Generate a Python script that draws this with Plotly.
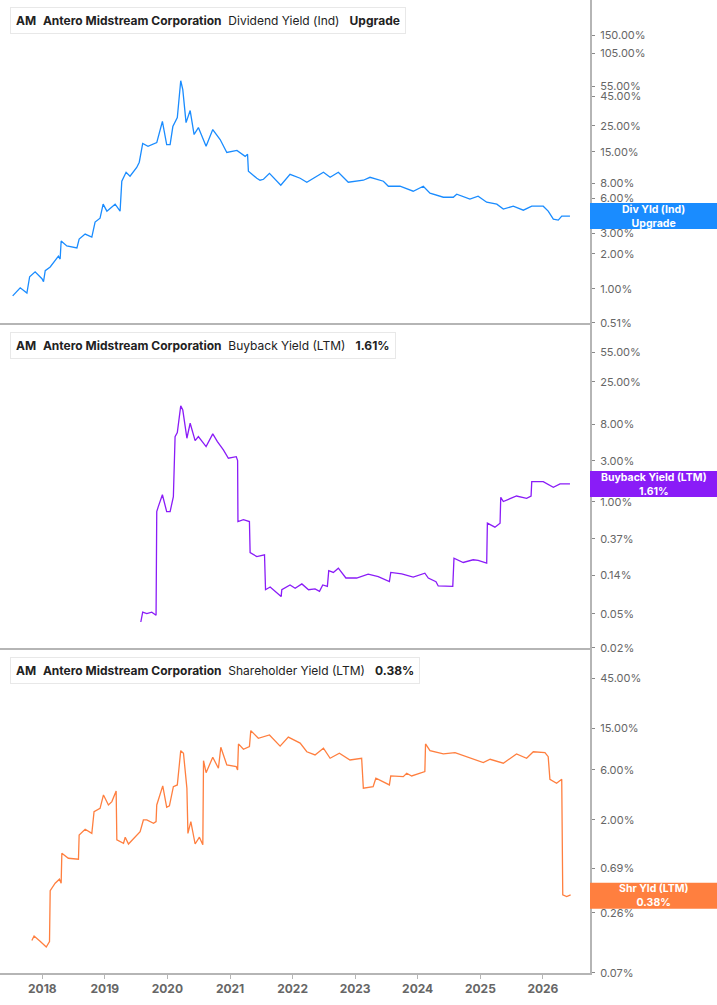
import math
import plotly.graph_objects as go
from plotly.subplots import make_subplots

# ---------------- data ----------------
div_dates = ["2017-07-12","2017-08-25","2017-10-03","2017-10-19","2017-11-20","2017-12-30","2018-01-08","2018-01-18",
             "2018-02-16","2018-04-05","2018-04-15","2018-04-21","2018-05-24","2018-07-22","2018-08-04","2018-09-08",
             "2018-10-17","2018-11-05","2018-12-04","2018-12-22","2019-01-13","2019-03-02","2019-03-31","2019-04-10",
             "2019-05-05","2019-05-28","2019-07-06","2019-07-21","2019-08-10","2019-09-10","2019-10-31","2019-12-03",
             "2019-12-28","2020-01-17","2020-02-02","2020-02-28","2020-03-19","2020-03-31","2020-04-19","2020-05-13",
             "2020-06-05","2020-06-30","2020-08-14","2020-09-22","2020-11-04","2020-12-13","2021-02-10","2021-03-30",
             "2021-04-13","2021-04-18","2021-06-06","2021-06-25","2021-07-15","2021-08-19","2021-10-24","2021-12-17",
             "2022-02-14","2022-03-25","2022-06-30","2022-08-08","2022-09-25","2022-11-22","2023-02-18","2023-03-29",
             "2023-06-15","2023-07-14","2023-09-20","2023-12-06","2024-02-03","2024-03-13","2024-05-30","2024-07-27",
             "2024-08-16","2024-11-01","2024-12-19","2025-02-07","2025-04-07","2025-05-15","2025-07-12","2025-09-09",
             "2025-10-28","2026-01-03","2026-02-01","2026-03-03","2026-04-01","2026-04-21","2026-06-08"]
div_vals = [0.87,1.02,0.92,1.27,1.40,1.22,1.15,1.43,
            1.54,1.91,1.80,2.57,2.33,2.24,2.67,2.95,
            2.78,3.74,4.04,5.33,4.64,5.33,4.64,8.38,
            10.0,9.25,11.0,12.2,17.7,16.7,18.0,27.3,
            17.3,17.3,24.7,29.5,61.1,51.2,26.7,33.9,
            21.1,24.2,16.7,23.3,19.1,14.8,15.4,13.7,
            14.3,10.2,8.89,8.55,8.71,9.8,7.74,9.61,
            8.89,8.22,10.0,9.06,10.0,8.22,8.55,9.06,
            8.38,7.59,7.59,6.88,7.59,6.62,6.11,6.11,
            6.49,5.88,6.24,5.54,5.33,4.83,5.12,4.73,
            5.12,5.12,4.64,3.96,3.89,4.21,4.21]

bb_dates = ["2019-07-30","2019-08-10","2019-09-03","2019-10-02","2019-10-27","2019-10-31","2019-11-09","2019-12-03",
            "2019-12-28","2020-01-17","2020-02-05","2020-02-15","2020-02-28","2020-03-19","2020-03-31","2020-04-24",
            "2020-05-13","2020-06-11","2020-06-30","2020-07-20","2020-08-14","2020-09-22","2020-10-19","2020-11-23",
            "2020-12-22","2021-02-06","2021-02-14","2021-02-16","2021-03-20","2021-04-24","2021-04-28","2021-06-06",
            "2021-07-21","2021-07-27","2021-08-23","2021-10-26","2021-10-30","2021-12-17","2022-01-16","2022-02-24",
            "2022-04-04","2022-05-12","2022-06-07","2022-06-26","2022-07-23","2022-07-31","2022-08-27","2022-09-25",
            "2022-11-08","2023-01-10","2023-03-18","2023-05-16","2023-07-20","2023-07-28","2023-09-30","2023-12-06",
            "2024-02-12","2024-03-03","2024-04-17","2024-04-30","2024-07-24","2024-07-31","2024-09-23","2024-11-20",
            "2024-12-19","2025-02-07","2025-02-11","2025-03-27","2025-04-26","2025-04-30","2025-05-15","2025-07-31",
            "2025-09-28","2025-10-24","2025-10-28","2026-01-03","2026-03-03","2026-04-11","2026-06-08"]
bb_vals = [0.040,0.052,0.050,0.052,0.048,0.77,0.88,1.21,
           0.77,0.77,1.15,5.74,6.39,13.1,11.7,5.50,
           8.22,5.16,5.74,5.02,4.40,6.18,5.02,4.02,
           3.22,3.36,3.02,0.59,0.62,0.59,0.257,0.231,
           0.242,0.095,0.102,0.079,0.095,0.108,0.099,0.111,
           0.095,0.097,0.091,0.108,0.104,0.158,0.151,0.169,
           0.130,0.130,0.144,0.135,0.118,0.151,0.145,0.133,
           0.148,0.130,0.118,0.105,0.104,0.221,0.197,0.212,
           0.208,0.194,0.565,0.508,0.565,1.13,1.01,1.17,
           1.10,1.17,1.72,1.72,1.48,1.62,1.62]

shr_dates = ["2017-11-01","2017-11-14","2017-12-19","2018-01-24","2018-02-12","2018-02-16","2018-03-17","2018-04-11",
             "2018-04-21","2018-04-25","2018-06-02","2018-07-31","2018-08-04","2018-09-08","2018-10-17","2018-10-30",
             "2018-12-04","2018-12-24","2019-01-22","2019-02-11","2019-03-08","2019-03-12","2019-04-20","2019-04-30",
             "2019-05-19","2019-06-27","2019-07-26","2019-08-14","2019-09-03","2019-10-12","2019-10-27","2019-10-31",
             "2019-12-05","2019-12-28","2020-01-13","2020-02-05","2020-02-28","2020-03-19","2020-04-04","2020-04-24",
             "2020-04-30","2020-05-17","2020-06-11","2020-07-06","2020-07-26","2020-07-30","2020-08-14","2020-09-22",
             "2020-10-25","2020-11-08","2020-12-13","2021-02-06","2021-02-14","2021-02-19","2021-03-20","2021-04-24",
             "2021-05-02","2021-06-15","2021-08-19","2021-10-20","2021-12-07","2022-02-14","2022-03-25","2022-05-12",
             "2022-06-30","2022-08-08","2022-10-01","2022-12-02","2023-02-08","2023-02-18","2023-04-16","2023-05-02",
             "2023-07-20","2023-07-28","2023-10-09","2023-10-29","2023-11-27","2024-02-12","2024-02-16","2024-03-13",
             "2024-05-30","2024-08-06","2024-11-01","2025-01-18","2025-02-27","2025-05-15","2025-07-31","2025-09-28",
             "2025-11-06","2026-01-13","2026-02-01","2026-02-11","2026-03-22","2026-04-21","2026-04-27","2026-05-20",
             "2026-06-12"]
shr_vals = [0.142,0.157,0.140,0.123,0.139,0.424,0.499,0.545,
            0.499,0.964,0.863,0.845,1.44,1.63,1.49,2.40,
            2.58,3.46,2.78,2.99,3.78,1.29,1.20,1.37,
            1.18,1.39,1.55,2.0,2.0,1.86,1.93,2.78,
            4.22,2.64,2.72,4.15,4.31,9.14,8.63,4.01,
            1.49,1.93,1.18,1.37,1.16,7.34,5.64,7.91,
            6.21,9.85,6.68,6.44,5.99,10.6,9.43,9.98,
            14.2,12.0,12.9,10.1,12.3,10.8,8.93,8.32,
            9.64,7.74,8.63,7.45,7.74,4.01,4.15,4.99,
            4.31,5.25,5.17,5.57,5.25,5.77,10.6,9.14,
            8.51,8.75,7.74,7.03,7.57,6.94,8.51,7.74,
            8.93,8.75,8.02,4.88,4.47,4.88,0.386,0.372,
            0.386]

div_ticks = [0.51, 1, 2, 3, 6, 8, 15, 25, 45, 55, 105, 150]
bb_ticks = [0.02, 0.05, 0.14, 0.37, 1, 3, 8, 25, 55]
shr_ticks = [0.07, 0.26, 0.69, 2, 6, 15, 45]
year_ticks = ["2018-01-01","2019-01-01","2020-01-01","2021-01-01","2022-01-01",
              "2023-01-01","2024-01-01","2025-01-01","2026-01-01"]
year_labels = ["2018","2019","2020","2021","2022","2023","2024","2025","2026"]

company = "Antero Midstream Corporation"
ticker = "AM"
metric_names = ["Dividend Yield (Ind)", "Buyback Yield (LTM)", "Shareholder Yield (LTM)"]
metric_values = ["Upgrade", "1.61%", "0.38%"]
tag_names = ["Div Yld (Ind)", "Buyback Yield (LTM)", "Shr Yld (LTM)"]
tag_values = ["Upgrade", "1.61%", "0.38%"]
last_vals = [4.21, 1.61, 0.38]

# ---------------- styling ----------------
BLUE = "#1a8cff"
PURPLE = "#8a1cf7"
ORANGE = "#ff7f3f"
colors = [BLUE, PURPLE, ORANGE]
AXIS = "#b5b5b5"
W, H = 717, 1005
ML, MR, MT, MB = 0, 127, 0, 32
PW = W - ML - MR
PH = H - MT - MB

ranges = [[-0.2935, 2.479], [-1.7005, 2.058], [-1.157, 1.920]]
domains = [[650 / PH, 1.0], [325 / PH, 648 / PH], [0.0, 323 / PH]]

fig = make_subplots(rows=3, cols=1, shared_xaxes=True, vertical_spacing=0.002)
series = [(div_dates, div_vals), (bb_dates, bb_vals), (shr_dates, shr_vals)]
for i, (d, v) in enumerate(series):
    fig.add_trace(go.Scatter(x=d, y=v, mode="lines", line=dict(color=colors[i], width=1.3),
                             hoverinfo="skip"), row=i + 1, col=1)

tick_sets = [div_ticks, bb_ticks, shr_ticks]
for i in range(3):
    fig.update_yaxes(type="log", range=ranges[i], domain=domains[i], side="right",
                     tickvals=tick_sets[i], ticktext=[f"{t:.2f}%" for t in tick_sets[i]],
                     showline=True, linecolor=AXIS, linewidth=2, ticks="outside", ticklen=3,
                     tickcolor="#888", showgrid=False, zeroline=False, ticklabelstandoff=3,
                     tickfont=dict(family="Inter", size=11, color="#666"),
                     row=i + 1, col=1)
    fig.update_xaxes(range=["2017-04-29", "2026-10-03"], showline=True, linecolor=AXIS, linewidth=2,
                     showgrid=False, zeroline=False, row=i + 1, col=1)

fig.update_xaxes(showticklabels=False, ticks="", row=1, col=1)
fig.update_xaxes(showticklabels=False, ticks="", row=2, col=1)
fig.update_xaxes(tickvals=year_ticks, ticktext=year_labels, ticks="outside", ticklen=4, tickcolor=AXIS,
                 tickfont=dict(family="Inter", size=12, color="#666", weight="bold"), row=3, col=1)

fig.update_layout(width=W, height=H, margin=dict(l=ML, r=MR, t=MT, b=MB, pad=0),
                  plot_bgcolor="white", paper_bgcolor="white", showlegend=False,
                  font=dict(family="Inter", size=11, color="#555"))

# right-hand value tags
yrefs = ["y", "y2", "y3"]
for i in range(3):
    dec_per_px = (ranges[i][1] - ranges[i][0]) / 323
    c = math.log10(last_vals[i])
    half = 13 * dec_per_px
    fig.add_shape(type="rect", xref="paper", yref=yrefs[i], x0=1.0, x1=W / PW + 0.01,
                  y0=10 ** (c - half), y1=10 ** (c + half), fillcolor=colors[i],
                  line=dict(width=0), layer="above")
    xc = (1 + W / PW) / 2
    fig.add_annotation(xref="paper", yref=yrefs[i], x=xc, y=c, xanchor="center", yanchor="middle",
                       text=f"<b>{tag_names[i]}</b><br><b>{tag_values[i]}</b>", showarrow=False,
                       borderpad=0, font=dict(family="Inter", size=10.5, color="white"))

# legend boxes (top-left of each panel)
legend_centers_px = [20.5, 345.5, 670.5]
NB = "\u00a0"
for i in range(3):
    yc = (PH - legend_centers_px[i]) / PH
    txt = (f"<b>{ticker}</b>{NB*2}<b>{company}</b>{NB*2}{metric_names[i]}{NB*3}"
           f"<b>{metric_values[i]}</b>")
    fig.add_annotation(xref="paper", yref="paper", x=10 / PW, y=yc, xanchor="left", yanchor="middle",
                       text=txt, showarrow=False, bgcolor="white", bordercolor="#e8e8e8",
                       borderwidth=1, borderpad=5,
                       font=dict(family="Inter", size=12, color="#222"))
    fig.add_shape(type="rect", xref="paper", yref="paper", x0=10 / PW, x1=13 / PW,
                  y0=(PH - legend_centers_px[i] - 12.5) / PH, y1=(PH - legend_centers_px[i] + 12.5) / PH,
                  fillcolor=colors[i], line=dict(width=0), layer="above")

fig.write_html("out.html")
